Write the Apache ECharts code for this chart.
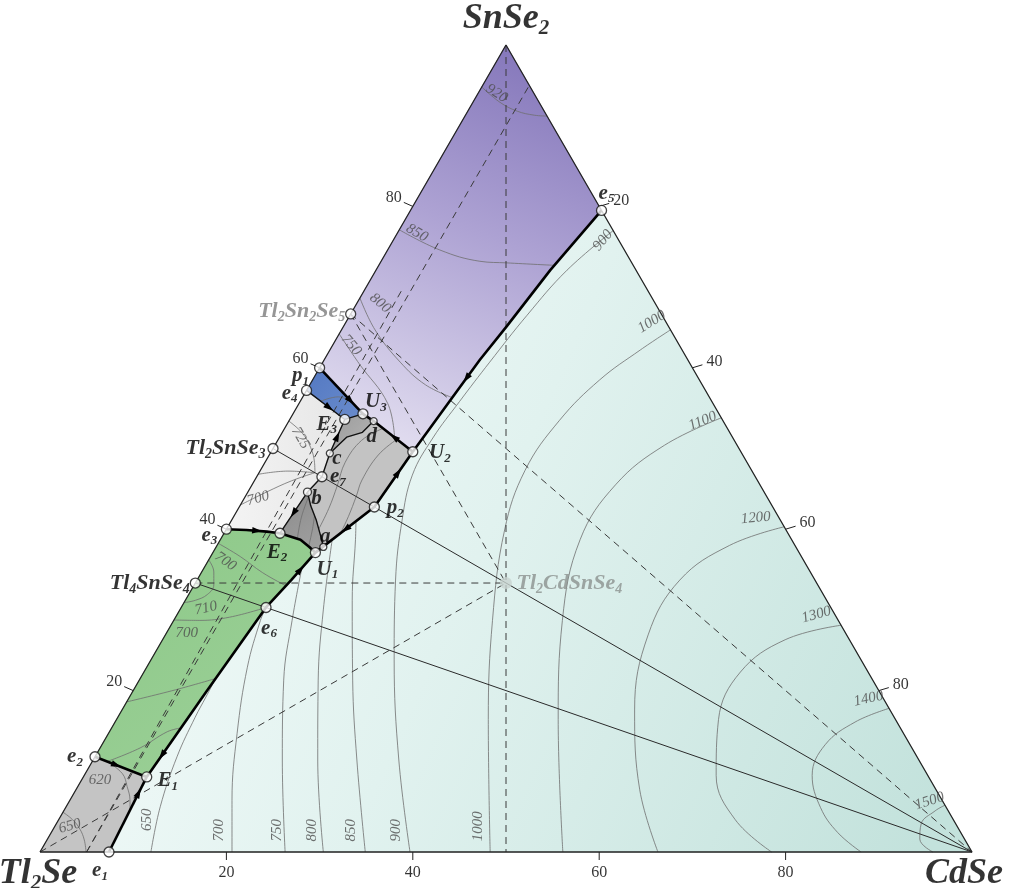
<!DOCTYPE html>
<html>
<head>
<meta charset="utf-8">
<script src="https://cdn.jsdelivr.net/npm/echarts@6/dist/echarts.min.js"></script>
<style>
html,body{margin:0;padding:0;background:#fff;}
#chart{width:1014px;height:888px;}
</style>
</head>
<body>
<div id="chart"></div>
<script>
// ================= DATA =================
// every composition is [CdSe mol%, SnSe2 mol%]; Tl2Se is the remainder
const tickValues = [20, 40, 60, 80];

const vertexNames = ['Tl2Se', 'CdSe', 'SnSe2'];
const vertexComp  = [[0, 0], [100, 0], [0, 100]];

const compoundNames = ['Tl4SnSe4', 'Tl2SnSe3', 'Tl2Sn2Se5', 'Tl2CdSnSe4'];
const compoundComp  = [[0, 33.33], [0, 50], [0, 66.67], [33.33, 33.33]];

const pointNames = ['e1','E1','e2','e6','e3','E2','U1','a','b','e7','c','E3','U3','d','e4','p1','U2','p2','e5'];
const pointComp  = [[7.4,0],[6.8,9.3],[0,11.8],[9.1,30.3],[0,40],[6.0,39.5],[11.0,37.1],[11.5,37.8],[6.4,44.6],
                    [7.0,46.5],[6.4,49.4],[5.9,53.6],[7.5,54.3],[9.1,53.4],[0,57.2],[0,60],[15.2,49.6],[14.5,42.75],[20.5,79.5]];

// monovariant curves (thick)
const bnd_e1E1   = ['e1','E1'];
const bnd_e2E1   = ['e2','E1'];
const bnd_E1U1   = ['E1',[7.9,19.8],'e6',[10.1,33.7],'U1'];
const bnd_e3E2   = ['e3',[2.2,39.9],[4.5,39.7],'E2'];
const bnd_E2U1   = ['E2',[8.6,38.7],[10.0,37.8],'U1'];
const bnd_U1U2   = ['U1','p2','U2'];
const bnd_U2e5   = ['U2',[15.5,51.9],[16.1,56.4],[16.7,61.0],[17.5,65.1],[18.7,72.1],'e5'];
const bnd_U2p1   = ['U2','d','U3','p1'];
// secondary curves
const bnd_E3E2   = ['E3','c','e7','b','E2'];
const bnd_e4U3   = ['e4','E3','U3'];
const bnd_bU1    = ['b',[7.6,42.9],[9.1,41.1],[10.8,38.8],'a','U1'];
const bnd_dc     = ['d',[8.6,52.0],[7.2,51.4],'c'];

// primary crystallisation fields
const reg_CdSe      = ['e1','CdSe','e5',[18.7,72.1],[17.5,65.1],[16.7,61.0],[16.1,56.4],[15.5,51.9],'U2','p2','U1',[10.1,33.7],'e6',[7.9,19.8],'E1'];
const reg_SnSe2     = ['SnSe2','e5',[18.7,72.1],[17.5,65.1],[16.7,61.0],[16.1,56.4],[15.5,51.9],'U2','d','U3','p1'];
const reg_Tl2Sn2Se5 = ['p1','U3','E3','e4'];
const reg_Tl2SnSe3  = ['e4','E3','c','e7','b','E2',[4.5,39.7],[2.2,39.9],'e3'];
const reg_Tl2CdSnSe4= ['E3','U3','d','U2','p2','U1','a',[10.8,38.8],[9.1,41.1],[7.6,42.9],'b','e7','c'];
const reg_dark1     = ['E2','b',[7.6,42.9],[9.1,41.1],[10.8,38.8],'a','U1',[10.0,37.8],[8.6,38.7]];
const reg_dark2     = ['E3','U3','d',[8.6,52.0],[7.2,51.4],'c'];
const reg_Tl4SnSe4  = ['e3',[2.2,39.9],[4.5,39.7],'E2',[8.6,38.7],[10.0,37.8],'U1',[10.1,33.7],'e6',[7.9,19.8],'E1','e2'];
const reg_Tl2Se     = ['Tl2Se','e2','E1','e1'];

// quasi-binary joins (solid) and studied sections (dashed)
const tie_Tl4SnSe4 = ['Tl4SnSe4','CdSe'];
const tie_Tl2SnSe3 = ['Tl2SnSe3','CdSe'];
const sec_1 = ['SnSe2',[50,0]];
const sec_2 = ['Tl4SnSe4','Tl2CdSnSe4'];
const sec_3 = ['Tl2Se','Tl2CdSnSe4'];
const sec_4 = ['Tl2Sn2Se5','Tl2CdSnSe4'];
const sec_5 = ['Tl2Sn2Se5','CdSe'];
const sec_6 = [[5,0],[5,95]];
const sec_7 = [[5,0],[4,70]];

// liquidus isotherms
const iso650c  = [[11.9,0],[10.1,5.6],[8.8,11.8],[8.3,16.7],[8.2,19.2],[8.1,21.5]];
const iso700c  = [[20.6,0],[17.4,6.4],[13.8,14.7],[10.8,22.9],[9.3,28.7],[9.1,30.3]];
const iso750c  = [[26.3,0],[20.3,11.4],[15.5,21.3],[12.7,28.7],[10.5,35.2]];
const iso800c  = [[30.4,0],[24.1,11.4],[19.2,21.3],[15.4,30.0],[12.0,38.7]];
const iso850c  = [[34.9,0],[28.3,11.4],[22.9,21.3],[17.9,31.2],[14.5,38.7],[13.4,41.0]];
const iso900c  = [[39.7,0],[32.8,11.4],[26.1,23.8],[21.3,33.7],[18.3,41.1],[16.6,46.7],[16.5,51.3],[17.1,55.8],[17.9,60.7],[19.0,66.5],[20.5,72.1],[23.0,77.0]];
const iso1000c = [[48.3,0],[39.9,16.4],[34.2,28.7],[29.9,39.9],[28.4,47.3],[29.0,53.5],[30.8,58.5],[33.3,62.2],[35.3,64.7]];
const iso1100c = [[56.1,0],[47.4,16.4],[41.7,28.7],[38.6,38.7],[39.0,45.5],[41.8,50.4],[46.2,53.8]];
const iso1200c = [[66.3,0],[60.5,7.7],[55.0,17.6],[51.8,26.9],[51.8,33.7],[55.0,38.0],[59.7,40.3]];
const iso1300c = [[78.5,0],[72.6,4.0],[67.8,9.5],[64.6,16.4],[64.0,22.3],[66.8,26.3],[71.9,28.1]];
const iso1400c = [[88.1,0],[84.4,2.4],[81.0,5.5],[78.1,9.5],[77.6,13.3],[79.4,16.1],[82.2,17.8]];
const iso1500c = [[95.8,0],[93.6,1.6],[92.8,3.5],[93.5,5.1],[94.2,5.8]];
const iso920s  = [[0,94.8],[2.9,92.9],[5.3,91.8],[7.4,91.3],[8.8,91.2]];
const iso850s  = [[0,77.1],[5.6,74.6],[10.6,73.2],[13.6,73.0],[18.8,72.7]];
const iso800s  = [[0,68.65],[3.6,64.7],[8.3,60.7],[12.4,57.9],[16.1,56.3]];
const iso750s  = [[0,64.2],[4.0,60.5],[9.5,55.6],[12.4,51.3]];
const isoBlue  = [[2.2,55.86],[3.8,56.4],[5.6,55.74]];
const iso725t  = [[0,53.4],[2.2,51.9],[4.0,50.1],[5.3,48.3],[6.0,47.0]];
const isoMidT  = [[0,46.8],[3.0,47.2],[6.0,47.0]];
const iso700t  = [[0,43.0],[2.0,44.6],[4.0,46.0],[6.0,47.0]];
const isoG1    = [[10.5,52.45],[9.0,51.0],[8.6,48.3],[9.2,45.4],[9.7,42.6],[9.9,40.0]];
const isoG2    = [[12.7,51.1],[11.7,49.2],[11.5,46.1],[11.9,44.05],[12.3,41.6],[12.5,39.5]];
const isoD1    = [[6.8,44.03],[7.3,41.5],[8.2,38.82]];
const isoD2    = [[8.6,41.7],[9.2,40.1],[9.9,37.86]];
const iso700g1 = [[0,38.25],[3.2,36.6],[6.6,34.6],[9.87,33.0]];
const iso710g  = [[0,36.2],[1.3,34.7],[2.1,33.1],[2.0,31.9],[1.1,31.2],[0,30.9]];
const iso700g2 = [[0,28.75],[2.8,28.7],[5.8,29.1],[9.1,30.3]];
const iso650g  = [[0,18.6],[4.5,20.1],[8.1,21.5]];
const iso620g  = [[1.6,11.21],[4.3,12.9],[6.2,14.9],[7.43,15.37]];
const iso620t  = [[1.6,11.21],[4.0,9.7],[5.3,8.1],[6.4,6.5],[7.06,5.2]];
const iso650t  = [[0,4.93],[1.5,4.0],[2.85,2.85],[4.0,1.5],[4.94,0]];

// isotherm labels
const isoLabelText = ['920','850','800','750','725','700','700','710','700','620','650','650','700','750','800','850','900','1000','900','1000','1100','1200','1300','1400','1500'];
const isoLabelComp = [[2.0,94.0],[2.1,76.7],[2.5,68.0],[2.0,62.8],[2.3,51.3],[1.5,43.8],[1.9,36.0],[2.7,30.2],[2.2,27.1],[2.0,8.9],[1.6,3.2],
                      [9.5,4.0],[17.9,2.7],[24.1,2.7],[27.8,2.7],[32.0,2.7],[36.9,2.7],[45.4,3.2],
                      [22.5,75.8],[32.8,65.7],[44.4,53.4],[56.1,41.4],[68.6,29.4],[79.4,19.0],[92.3,6.3]];

// direction arrows on the curves: position and the point it heads to
const arrowAt = [[2.8,10.77],[6.93,7.3],[7.08,12.0],[3.4,39.8],[10.45,35.0],[12.8,40.0],[14.93,47.0],[16.4,58.7],[12.3,51.4],[5.35,55.93],[3.5,55.06],[6.15,51.5],[6.2,42.0]];
const arrowTo = ['E1','E1','E1','E2','U1','U1','U2','U2','U3','U3','E3','E3','E2'];

// ================= HELPERS =================
const NAMED = {};
vertexNames.forEach((n, i) => NAMED[n] = vertexComp[i]);
compoundNames.forEach((n, i) => NAMED[n] = compoundComp[i]);
pointNames.forEach((n, i) => NAMED[n] = pointComp[i]);
const R = list => list.map(p => typeof p === 'string' ? NAMED[p] : p);
const H = Math.sqrt(3) / 2;
const toXY = p => [p[0] + p[1] / 2, p[1] * H];
const SERIF = 'Liberation Serif';

function rich(name, m, s) {
  return name.replace(/([A-Za-z]+)|(\d+)/g, (all, a, d) => a ? '{' + m + '|' + a + '}' : '{' + s + '|' + d + '}');
}

const LG = echarts.graphic.LinearGradient;
const REGIONS = [
  { pts: reg_CdSe, fill: new LG(0, 0.2, 1, 0.8, [{offset:0,color:'#f6fcfb'},{offset:0.45,color:'#e1f2ef'},{offset:1,color:'#c3e2dc'}]) },
  { pts: reg_SnSe2, fill: new LG(0.8, 0, 0.2, 1, [{offset:0,color:'#8274b9'},{offset:0.45,color:'#ada2d3'},{offset:1,color:'#e4e0f1'}]) },
  { pts: reg_Tl2SnSe3, fill: new LG(0, 0, 1, 0, [{offset:0,color:'#f4f4f4'},{offset:1,color:'#e6e6e6'}]) },
  { pts: reg_Tl2CdSnSe4, fill: '#c3c3c3' },
  { pts: reg_dark1, fill: new LG(0, 0, 1, 1, [{offset:0,color:'#8a8a8a'},{offset:1,color:'#a2a2a2'}]) },
  { pts: reg_dark2, fill: new LG(0, 0, 1, 1, [{offset:0,color:'#9a9a9a'},{offset:1,color:'#b6b6b6'}]) },
  { pts: reg_Tl2Sn2Se5, fill: new LG(0, 0, 1, 1, [{offset:0,color:'#5378c2'},{offset:1,color:'#6a8ccc'}]) },
  { pts: reg_Tl4SnSe4, fill: new LG(0, 0, 1, 1, [{offset:0,color:'#8cc887'},{offset:1,color:'#9ed19a'}]) },
  { pts: reg_Tl2Se, fill: '#c4c4c4' }
];

const series = [];

series.push({
  type: 'custom', z: 1, silent: true, clip: false,
  data: REGIONS.map((r, i) => { const q = toXY(R(r.pts)[0]); return [q[0], q[1], i]; }),
  renderItem: (params, api) => {
    const r = REGIONS[api.value(2)];
    const pts = R(r.pts).map(p => api.coord(toXY(p)));
    return { type: 'polygon', shape: { points: pts }, style: { fill: r.fill, stroke: r.fill, lineWidth: 0.6 } };
  }
});

function addLine(pts, color, width, type, smooth, z) {
  series.push({
    type: 'line', data: R(pts).map(toXY), symbol: 'none', silent: true, clip: false,
    smooth: smooth, z: z, lineStyle: { color: color, width: width, type: type }
  });
}

// isotherms
[iso650c, iso700c, iso750c, iso800c, iso850c, iso900c, iso1000c, iso1100c, iso1200c, iso1300c, iso1400c, iso1500c,
 iso920s, iso850s, iso800s, iso750s, isoBlue, iso725t, isoMidT, iso700t, isoG1, isoG2, isoD1, isoD2,
 iso700g1, iso710g, iso700g2, iso650g, iso620g, iso620t, iso650t].forEach(p => addLine(p, '#6e6e6e', 0.8, 'solid', 0.4, 2));

// sections
[sec_1, sec_2, sec_3, sec_4, sec_5, sec_6, sec_7].forEach(p => addLine(p, '#3a3a3a', 1, [7, 5], false, 3));
// joins
[tie_Tl4SnSe4, tie_Tl2SnSe3].forEach(p => addLine(p, '#2a2a2a', 1, 'solid', false, 3));
// secondary curves
[bnd_E3E2, bnd_e4U3, bnd_bU1, bnd_dc].forEach(p => addLine(p, '#111', 1.4, 'solid', false, 4));
// main curves
[bnd_e1E1, bnd_e2E1, bnd_E1U1, bnd_e3E2, bnd_E2U1, bnd_U1U2, bnd_U2e5, bnd_U2p1].forEach(p => addLine(p, '#000', 2.6, 'solid', false, 5));
// triangle
addLine(['Tl2Se', 'CdSe', 'SnSe2', 'Tl2Se'], '#222', 1.3, 'solid', false, 5);

// ticks
const TICK_DIR = [[-9, -4], [10, -3], [0, 8]];
const tickData = [];
tickValues.forEach(v => {
  const l = toXY([0, v]), r = toXY([v, 100 - v]), b = toXY([v, 0]);
  tickData.push([l[0], l[1], 0], [r[0], r[1], 1], [b[0], b[1], 2]);
});
series.push({
  type: 'custom', z: 5, silent: true, clip: false, data: tickData,
  renderItem: (params, api) => {
    const p = api.coord([api.value(0), api.value(1)]);
    const d = TICK_DIR[api.value(2)];
    return { type: 'line', shape: { x1: p[0], y1: p[1], x2: p[0] + d[0], y2: p[1] + d[1] }, style: { stroke: '#222', lineWidth: 1 } };
  }
});

// arrows
series.push({
  type: 'custom', z: 6, silent: true, clip: false,
  data: arrowAt.map((p, i) => { const a = toXY(p), t = toXY(NAMED[arrowTo[i]]); return [a[0], a[1], t[0], t[1]]; }),
  renderItem: (params, api) => {
    const p = api.coord([api.value(0), api.value(1)]);
    const q = api.coord([api.value(2), api.value(3)]);
    const ang = Math.atan2(q[1] - p[1], q[0] - p[0]);
    const c = Math.cos(ang), s = Math.sin(ang), L = 5, W = 3.2;
    const tip = [p[0] + c * L, p[1] + s * L];
    const b1 = [p[0] - c * L - s * W, p[1] - s * L + c * W];
    const b2 = [p[0] - c * L + s * W, p[1] - s * L - c * W];
    return { type: 'polygon', shape: { points: [tip, b1, b2] }, style: { fill: '#000' } };
  }
});

// point markers
const smallPts = { a: 7, b: 8, c: 7, d: 7 };
series.push({
  type: 'scatter', z: 7, silent: true,
  data: pointNames.map((n, i) => ({ value: toXY(pointComp[i]), symbolSize: smallPts[n] || 10 }))
    .concat(compoundNames.slice(0, 3).map((n, i) => ({ value: toXY(compoundComp[i]), symbolSize: 10 }))),
  itemStyle: { color: '#fff', borderColor: '#151515', borderWidth: 1.3 }
});
series.push({
  type: 'scatter', z: 7, silent: true,
  data: [toXY(NAMED['Tl2CdSnSe4'])], symbolSize: 12, itemStyle: { color: '#c8d3d0' }
});

// ---- text ----
const RICH = {
  pm: { fontFamily: SERIF, fontStyle: 'italic', fontWeight: 'bold', fontSize: 21, color: '#000', lineHeight: 24, verticalAlign: 'middle' },
  ps: { fontFamily: SERIF, fontStyle: 'italic', fontWeight: 'bold', fontSize: 13, color: '#000', lineHeight: 14, verticalAlign: 'bottom' },
  cm: { fontFamily: SERIF, fontStyle: 'italic', fontWeight: 'bold', fontSize: 22, color: '#000', lineHeight: 26, verticalAlign: 'middle' },
  cs: { fontFamily: SERIF, fontStyle: 'italic', fontWeight: 'bold', fontSize: 14, color: '#000', lineHeight: 15, verticalAlign: 'bottom' },
  gm: { fontFamily: SERIF, fontStyle: 'italic', fontWeight: 'bold', fontSize: 22, color: '#7c7c7c', lineHeight: 26, verticalAlign: 'middle' },
  gs: { fontFamily: SERIF, fontStyle: 'italic', fontWeight: 'bold', fontSize: 14, color: '#7c7c7c', lineHeight: 15, verticalAlign: 'bottom' },
  tm: { fontFamily: SERIF, fontStyle: 'italic', fontWeight: 'bold', fontSize: 22, color: '#8b918f', lineHeight: 26, verticalAlign: 'middle' },
  ts: { fontFamily: SERIF, fontStyle: 'italic', fontWeight: 'bold', fontSize: 14, color: '#8b918f', lineHeight: 15, verticalAlign: 'bottom' },
  vm: { fontFamily: SERIF, fontStyle: 'italic', fontWeight: 'bold', fontSize: 36, color: '#000', lineHeight: 40, verticalAlign: 'middle' },
  vs: { fontFamily: SERIF, fontStyle: 'italic', fontWeight: 'bold', fontSize: 21, color: '#000', lineHeight: 22, verticalAlign: 'bottom' }
};
const PT_OFFSET = { e1:[-9,19], E1:[21,4], e2:[-20,0], e6:[3,21], e3:[-17,6], E2:[-3,19], U1:[12,17], a:[2,-10], b:[9,7],
  e7:[16,0], c:[7,5], E3:[-18,5], U3:[13,-12], d:[-2,16], e4:[-17,3], p1:[-19,8], U2:[27,1], p2:[21,1], e5:[5,-17] };

const textData = [];
pointNames.forEach((n, i) => textData.push({
  value: toXY(pointComp[i]),
  label: { formatter: rich(n, 'pm', 'ps'), offset: PT_OFFSET[n] }
}));
const CMP_STYLE = [
  { position: 'left', distance: 5, m: 'cm', s: 'cs', off: [0, 0] },
  { position: 'left', distance: 7, m: 'cm', s: 'cs', off: [0, 0] },
  { position: 'left', distance: 5, m: 'gm', s: 'gs', off: [0, -3] },
  { position: 'right', distance: 10, m: 'tm', s: 'ts', off: [0, 0] }
];
compoundNames.forEach((n, i) => {
  const st = CMP_STYLE[i];
  textData.push({ value: toXY(compoundComp[i]),
    label: { formatter: rich(n, st.m, st.s), position: st.position, distance: st.distance, offset: st.off } });
});
const VX_OFFSET = [[-2, 22], [-8, 22], [0, -26]];
vertexNames.forEach((n, i) => textData.push({
  value: toXY(vertexComp[i]), label: { formatter: rich(n, 'vm', 'vs'), offset: VX_OFFSET[i] }
}));

series.push({
  type: 'scatter', z: 9, silent: true, symbolSize: 1, itemStyle: { color: 'rgba(0,0,0,0)' },
  label: { show: true, position: 'inside', color: '#000', rich: RICH },
  data: textData
});

// tick labels
const TICK_LAB = [[-19, -9], [22, -6], [0, 21]];
const tickLabelData = [];
tickValues.forEach(v => {
  [[0, v], [v, 100 - v], [v, 0]].forEach((c, k) => tickLabelData.push({
    value: toXY(c), label: { formatter: String(v), offset: TICK_LAB[k] }
  }));
});
series.push({
  type: 'scatter', z: 9, silent: true, symbolSize: 1, itemStyle: { color: 'rgba(0,0,0,0)' },
  label: { show: true, position: 'inside', fontFamily: SERIF, fontSize: 16, color: '#000' },
  data: tickLabelData
});

// isotherm labels
const ISO_ROT = [-32,-30,-40,-50,-60,15,-35,12,0,0,15,90,90,90,90,90,90,90,50,32,22,5,15,12,18];
series.push({
  type: 'scatter', z: 8, silent: true, symbolSize: 1, itemStyle: { color: 'rgba(0,0,0,0)' },
  label: { show: true, position: 'inside', fontFamily: SERIF, fontStyle: 'italic', fontSize: 15, color: '#4d4d4d' },
  data: isoLabelText.map((t, i) => ({ value: toXY(isoLabelComp[i]), label: { formatter: t, rotate: ISO_ROT[i] } }))
});

const chart = echarts.init(document.getElementById('chart'), null, { renderer: 'canvas' });
chart.setOption({
  animation: false,
  backgroundColor: '#fff',
  grid: { left: 40, right: 42, top: 45, bottom: 36 },
  xAxis: { type: 'value', min: 0, max: 100, show: false },
  yAxis: { type: 'value', min: 0, max: 100 * H, show: false },
  series: series
});
</script>
</body>
</html>
